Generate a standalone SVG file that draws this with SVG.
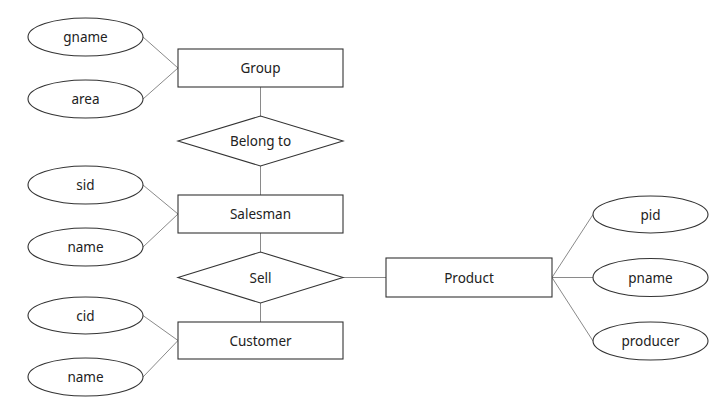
<svg xmlns="http://www.w3.org/2000/svg" width="727" height="411" viewBox="0 0 727 411">
<style>
.shape{fill:#fff;stroke:#333;stroke-width:1.1}
.conn{stroke:#8a8a8a;stroke-width:1;fill:none}
text{font-family:"Noto Sans","Liberation Sans",sans-serif;font-size:13.5px;fill:#222;text-anchor:middle;dominant-baseline:central}
</style>
<rect width="727" height="411" fill="#fff"/>
<g id="connectors">
<line class="conn" x1="143" y1="37" x2="178" y2="68"/>
<line class="conn" x1="143" y1="99" x2="178" y2="68"/>
<line class="conn" x1="260.5" y1="87" x2="260.5" y2="116"/>
<line class="conn" x1="260.5" y1="166" x2="260.5" y2="195"/>
<line class="conn" x1="143" y1="185" x2="178" y2="214"/>
<line class="conn" x1="143" y1="247" x2="178" y2="214"/>
<line class="conn" x1="260.5" y1="233" x2="260.5" y2="252"/>
<line class="conn" x1="260.5" y1="303" x2="260.5" y2="322"/>
<line class="conn" x1="343" y1="277.5" x2="386" y2="277.5"/>
<line class="conn" x1="143" y1="315.5" x2="178" y2="340.5"/>
<line class="conn" x1="143" y1="377" x2="178" y2="340.5"/>
<line class="conn" x1="552" y1="277.5" x2="593" y2="214.5"/>
<line class="conn" x1="552" y1="277.5" x2="593" y2="277.5"/>
<line class="conn" x1="552" y1="277.5" x2="593" y2="341"/>
</g>
<g id="gname"><ellipse class="shape" cx="85.5" cy="37" rx="57.5" ry="19"/><text x="85.5" y="37">gname</text></g>
<g id="area"><ellipse class="shape" cx="85.5" cy="99" rx="57.5" ry="19"/><text x="85.5" y="99">area</text></g>
<g id="group"><rect class="shape" x="178" y="49" width="165" height="38"/><text x="260.5" y="68">Group</text></g>
<g id="belong_to"><polygon class="shape" points="178,141 260.5,116 343,141 260.5,166"/><text x="260.5" y="141">Belong to</text></g>
<g id="sid"><ellipse class="shape" cx="85.5" cy="185" rx="57.5" ry="19"/><text x="85.5" y="185">sid</text></g>
<g id="salesman_name"><ellipse class="shape" cx="85.5" cy="247" rx="57.5" ry="19"/><text x="85.5" y="247">name</text></g>
<g id="salesman"><rect class="shape" x="178" y="195" width="165" height="38"/><text x="260.5" y="214">Salesman</text></g>
<g id="sell"><polygon class="shape" points="178,277.5 260.5,252 343,277.5 260.5,303"/><text x="260.5" y="277.5">Sell</text></g>
<g id="product"><rect class="shape" x="386" y="258" width="166" height="39"/><text x="469" y="277.5">Product</text></g>
<g id="cid"><ellipse class="shape" cx="85.5" cy="315.5" rx="57.5" ry="18.5"/><text x="85.5" y="315.5">cid</text></g>
<g id="customer_name"><ellipse class="shape" cx="85.5" cy="377" rx="57.5" ry="19"/><text x="85.5" y="377">name</text></g>
<g id="customer"><rect class="shape" x="178" y="322" width="165" height="37"/><text x="260.5" y="340.5">Customer</text></g>
<g id="pid"><ellipse class="shape" cx="650.5" cy="214.5" rx="57.5" ry="18.5"/><text x="650.5" y="214.5">pid</text></g>
<g id="pname"><ellipse class="shape" cx="650.5" cy="277.5" rx="57.5" ry="19"/><text x="650.5" y="277.5">pname</text></g>
<g id="producer"><ellipse class="shape" cx="650.5" cy="341" rx="57.5" ry="19"/><text x="650.5" y="341">producer</text></g>
</svg>
